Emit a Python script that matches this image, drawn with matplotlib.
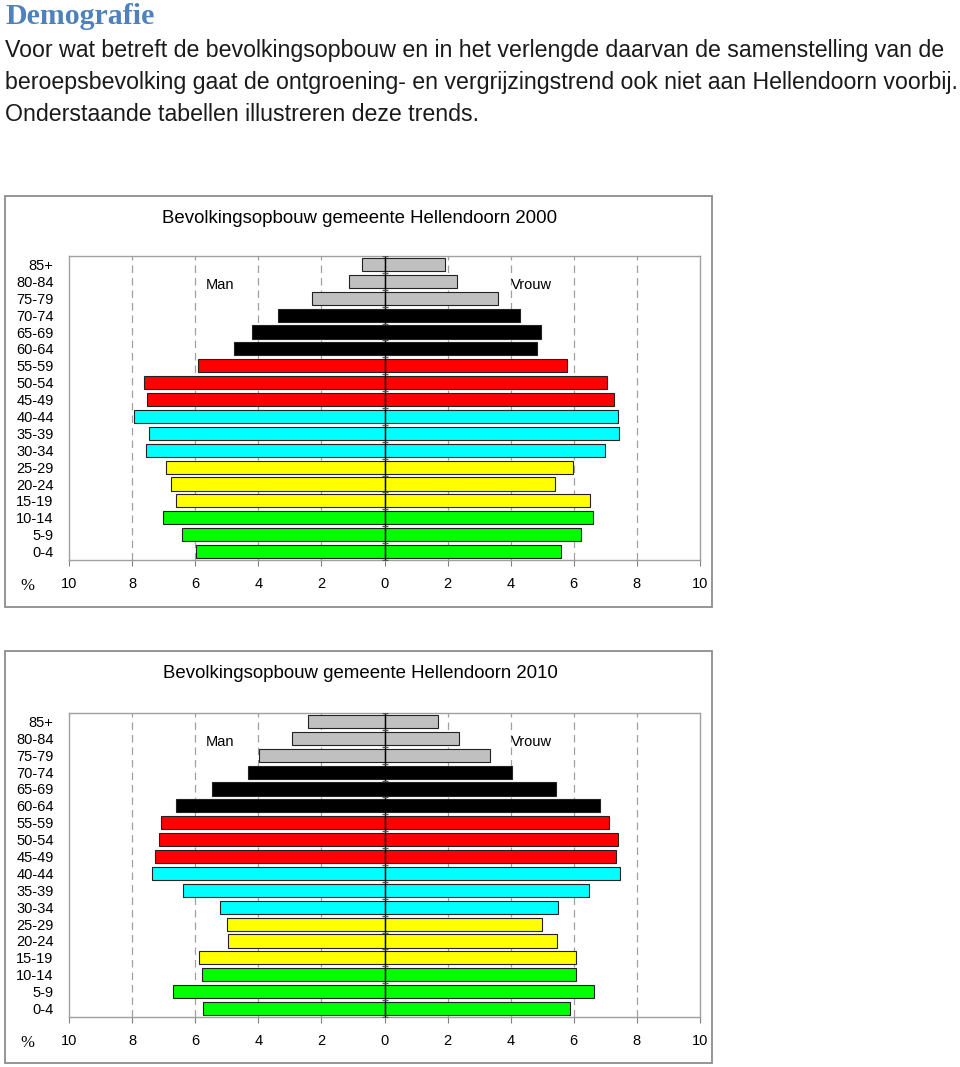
import matplotlib
matplotlib.use("Agg")
import matplotlib.pyplot as plt
from matplotlib.patches import Rectangle
import numpy as np

# age groups, top row first
groups = ["85+", "80-84", "75-79", "70-74", "65-69", "60-64", "55-59", "50-54", "45-49",
          "40-44", "35-39", "30-34", "25-29", "20-24", "15-19", "10-14", "5-9", "0-4"]

# percentages per age group
man_2000 = [0.70, 1.11, 2.29, 3.38, 4.20, 4.78, 5.92, 7.63, 7.53,
            7.93, 7.48, 7.55, 6.92, 6.77, 6.62, 7.01, 6.42, 5.96]
vrouw_2000 = [1.91, 2.29, 3.61, 4.30, 4.96, 4.84, 5.79, 7.04, 7.29,
              7.41, 7.43, 6.98, 5.96, 5.39, 6.50, 6.62, 6.24, 5.59]
man_2010 = [2.41, 2.92, 3.97, 4.34, 5.47, 6.62, 7.08, 7.14, 7.29,
            7.37, 6.38, 5.21, 5.00, 4.96, 5.88, 5.79, 6.71, 5.75]
vrouw_2010 = [1.68, 2.35, 3.35, 4.04, 5.44, 6.83, 7.11, 7.41, 7.35,
              7.47, 6.47, 5.50, 4.98, 5.46, 6.07, 6.07, 6.65, 5.88]

# one colour per block of three age groups
block_colors = ["#c0c0c0", "#000000", "#ff0000", "#00ffff", "#ffff00", "#00ff00"]
colors = [block_colors[i // 3] for i in range(len(groups))]

xticks = [-10, -8, -6, -4, -2, 0, 2, 4, 6, 8, 10]
xticklabels = [str(abs(t)) for t in xticks]

fig = plt.figure(figsize=(9.6, 10.67), dpi=100)
W, H = 960, 1067


def fx(px):
    return px / W


def fy(py):
    return 1 - py / H


# page text
fig.text(fx(5), fy(24), "Demografie", family="Liberation Serif", weight="bold",
         fontsize=21.5, color="#4f81bd", va="baseline")
body = ["Voor wat betreft de bevolkingsopbouw en in het verlengde daarvan de samenstelling van de",
        "beroepsbevolking gaat de ontgroening- en vergrijzingstrend ook niet aan Hellendoorn voorbij.",
        "Onderstaande tabellen illustreren deze trends."]
for i, line in enumerate(body):
    fig.text(fx(5), fy(57 + 32 * i), line, family="Liberation Sans", fontsize=16.7,
             color="#1a1a1a", va="baseline")


def pyramid(box_top, box_bottom, ax_top, ax_bottom, title, man, vrouw):
    # outer frame around the chart
    fig.patches.append(Rectangle((fx(5), fy(box_bottom)), fx(707), (box_bottom - box_top) / H,
                                 transform=fig.transFigure, fill=False,
                                 edgecolor="#8c8c8c", lw=1.3))
    fig.text(fx(360), fy(box_top + 27), title, family="Liberation Sans", fontsize=13.4,
             ha="center", va="baseline")

    ax = fig.add_axes([fx(69), fy(ax_bottom), fx(700 - 69), (ax_bottom - ax_top) / H])
    y = np.arange(len(groups))[::-1]
    ax.barh(y, [-v for v in man], height=0.78, color=colors, edgecolor="#222222", lw=0.8, zorder=3)
    ax.barh(y, vrouw, height=0.78, color=colors, edgecolor="#222222", lw=0.8, zorder=3)

    ax.set_xlim(-10, 10)
    ax.set_ylim(-0.5, len(groups) - 0.5)
    for t in [-8, -6, -4, -2, 2, 4, 6, 8]:
        ax.axvline(t, color="#a0a0a0", lw=0.9, ls=(0, (6, 4)), zorder=1)
    ax.axvline(0, color="black", lw=1, zorder=4)
    # small ticks on the centre axis between age groups
    ax.plot(np.zeros(len(groups) + 1), np.arange(len(groups) + 1) - 0.5, ls="none",
            marker="_", ms=5, color="#555555", zorder=4)

    ax.set_xticks(xticks)
    ax.set_xticklabels(xticklabels, family="Liberation Sans", fontsize=10.5)
    ax.tick_params(axis="x", length=4, color="#808080", pad=8)
    ax.set_yticks(y)
    ax.set_yticklabels(groups, family="Liberation Sans", fontsize=10.5)
    ax.tick_params(axis="y", length=0, pad=11)
    for s in ax.spines.values():
        s.set_color("#a0a0a0")
        s.set_linewidth(1)

    ax.text(-5.2, len(groups) - 2.2, "Man", family="Liberation Sans", fontsize=10.5,
            ha="center", va="center")
    ax.text(4.65, len(groups) - 2.2, "Vrouw", family="Liberation Sans", fontsize=10.5,
            ha="center", va="center")
    fig.text(fx(20), fy(ax_bottom + 30), "%", family="Liberation Serif", fontsize=12,
             va="baseline")


pyramid(196, 607, 256, 560, "Bevolkingsopbouw gemeente Hellendoorn 2000", man_2000, vrouw_2000)
pyramid(651, 1063, 713, 1017, "Bevolkingsopbouw gemeente Hellendoorn 2010", man_2010, vrouw_2010)

fig.savefig("out.png", dpi=100)
